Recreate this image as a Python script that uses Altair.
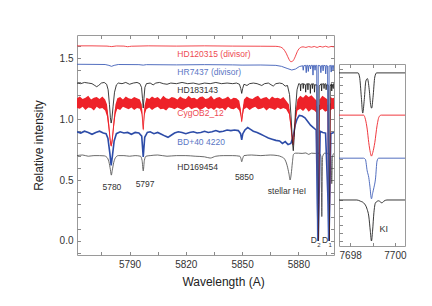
import altair as alt
import pandas as pd

FONT = "Liberation Sans, Arial, sans-serif"

# ---------------- main panel spectra (wavelength A, relative intensity) ----------------
hd120315_w = [5762, 5770, 5778, 5780.5, 5783, 5787, 5789, 5791, 5800, 5815, 5830, 5845, 5860, 5868,
              5870.5, 5872, 5873.5, 5875, 5876, 5877, 5878.3, 5879.5, 5881, 5882.5, 5884, 5885.5,
              5887, 5888.5, 5890, 5891.5, 5893, 5894.5, 5896, 5897.5, 5899]
hd120315_i = [1.600, 1.600, 1.598, 1.594, 1.599, 1.598, 1.593, 1.597, 1.600, 1.598, 1.600, 1.598, 1.597, 1.596,
              1.590, 1.575, 1.540, 1.490, 1.470, 1.475, 1.510, 1.555, 1.585, 1.592, 1.587, 1.594,
              1.589, 1.595, 1.587, 1.596, 1.590, 1.597, 1.589, 1.595, 1.592]

hr7437_w = [5762, 5770, 5777, 5779, 5780.4, 5781.8, 5784, 5795, 5797.3, 5799, 5815, 5830, 5845, 5850,
            5860, 5868, 5871, 5874, 5876.5, 5878.5, 5880.5, 5882.3, 5882.6, 5882.9, 5883.9, 5884.2,
            5884.5, 5885.0, 5885.3, 5885.6, 5886.2, 5886.5, 5886.8, 5887.5, 5887.8, 5888.1, 5888.6,
            5888.9, 5889.2, 5889.8, 5890.05, 5890.2, 5890.35, 5890.6, 5891.7, 5892.0, 5892.3, 5892.9,
            5893.2, 5893.5, 5894.3, 5894.6, 5894.9, 5895.6, 5895.85, 5896.0, 5896.15, 5896.4, 5897.2,
            5897.5, 5897.8, 5898.2, 5898.5, 5898.8, 5899]
hr7437_i = [1.449, 1.448, 1.447, 1.440, 1.432, 1.440, 1.447, 1.446, 1.442, 1.446, 1.444, 1.446, 1.444, 1.442,
            1.443, 1.440, 1.432, 1.415, 1.402, 1.410, 1.430, 1.437, 1.400, 1.437, 1.440, 1.380,
            1.440, 1.440, 1.390, 1.438, 1.440, 1.410, 1.440, 1.440, 1.360, 1.440, 1.440,
            1.400, 1.440, 1.440, 0.300, 0.000, 0.300, 1.440, 1.436, 1.380, 1.438, 1.440,
            1.395, 1.440, 1.438, 1.370, 1.440, 1.435, 0.300, 0.000, 0.300, 1.435, 1.440,
            1.385, 1.440, 1.438, 1.400, 1.440, 1.440]

hd183143_w = [5762, 5764, 5766, 5768, 5770, 5771.5, 5772.5, 5773.5, 5775, 5776.5, 5777.8, 5778.6, 5779.3,
              5779.8, 5780.2, 5780.6, 5781.2, 5782, 5783, 5784, 5786, 5788, 5790, 5792, 5794, 5795.5,
              5796.4, 5796.9, 5797.3, 5797.7, 5798.2, 5799, 5801, 5802.6, 5804, 5806, 5808, 5810, 5812,
              5815, 5818, 5821, 5824, 5827, 5830, 5833, 5836, 5839, 5842, 5845, 5847, 5848.6, 5849.3,
              5849.8, 5850.3, 5851, 5852.6, 5854, 5856, 5858, 5860.5, 5862, 5864, 5866.6, 5868, 5870,
              5871.5, 5873, 5874.2, 5875.3, 5876.2, 5876.9, 5877.3, 5877.8, 5878.5, 5879.3, 5880.2,
              5881.0, 5881.2, 5881.4, 5882.4, 5882.6, 5882.8, 5883.7, 5883.9, 5884.1, 5884.9, 5885.1,
              5885.3, 5886.2, 5886.4, 5886.6, 5887.3, 5887.5, 5887.7, 5888.4, 5888.6, 5888.8, 5889.9,
              5890.3, 5890.5, 5890.7, 5891.1, 5892.2, 5892.4, 5892.6, 5893.5, 5893.7, 5893.9, 5894.6,
              5894.8, 5895.0, 5895.9, 5896.2, 5896.4, 5896.6, 5897.0, 5897.6, 5897.8, 5898.0, 5898.6,
              5898.8, 5899]
hd183143_i = [1.295, 1.290, 1.300, 1.295, 1.290, 1.275, 1.265, 1.275, 1.295, 1.300, 1.285, 1.240, 1.120,
              1.010, 0.967, 1.000, 1.100, 1.220, 1.280, 1.295, 1.290, 1.300, 1.285, 1.295, 1.300, 1.290,
              1.260, 1.170, 1.090, 1.170, 1.260, 1.290, 1.295, 1.280, 1.295, 1.300, 1.290, 1.285, 1.295,
              1.290, 1.300, 1.290, 1.295, 1.285, 1.295, 1.290, 1.300, 1.290, 1.295, 1.290, 1.295, 1.285, 1.250,
              1.210, 1.250, 1.285, 1.275, 1.290, 1.295, 1.290, 1.275, 1.290, 1.295, 1.270, 1.290, 1.295,
              1.290, 1.270, 1.275, 1.200, 1.000, 0.800, 0.740, 0.850, 1.080, 1.240, 1.290,
              1.285, 1.230, 1.285, 1.290, 1.250, 1.290, 1.280, 1.220, 1.285, 1.290, 1.240,
              1.290, 1.285, 1.210, 1.280, 1.290, 1.250, 1.290, 1.285, 1.220, 1.280, 1.280,
              0.300, 0.000, 0.300, 1.270, 1.290, 1.230, 1.285, 1.290, 1.250, 1.285, 1.290,
              1.240, 1.280, 1.280, 0.300, 0.000, 0.300, 1.270, 1.290, 1.230, 1.285, 1.250,
              1.290, 1.285]

# CygOB2_12: noisy spectrum, read as lower / upper envelope of its noise band
cyg_w = [5762, 5763.5, 5765, 5766.5, 5768, 5769.5, 5771, 5772.5, 5774, 5775.5, 5777, 5778, 5779, 5779.7,
         5780.2, 5780.8, 5781.6, 5782.5, 5783.5, 5785, 5786.5, 5788, 5789.5, 5791, 5792.5, 5794, 5795.5,
         5796.5, 5797.3, 5798, 5799, 5800.5, 5802, 5803.5, 5805, 5806.5, 5808, 5809.5, 5811, 5812.5,
         5814, 5815.5, 5817, 5818.5, 5820, 5821.5, 5823, 5824.5, 5826, 5827.5, 5829, 5830.5, 5832,
         5833.5, 5835, 5836.5, 5838, 5839.5, 5841, 5842.5, 5844, 5845.5, 5847, 5848.5, 5849.3, 5849.8,
         5850.3, 5851, 5852.5, 5854, 5855.5, 5857, 5858.5, 5860, 5861.5, 5863, 5864.5, 5866, 5867.5,
         5869, 5870.5, 5872, 5873.5, 5875, 5876, 5876.8, 5877.2, 5877.7, 5878.5, 5879.5, 5881, 5882.5,
         5884, 5885.5, 5887, 5888.5, 5889.8, 5890.3, 5890.6, 5890.9, 5891.3, 5892.8, 5894.3, 5895.6,
         5896.1, 5896.4, 5896.7, 5897.1, 5898.2, 5899]
cyg_lo = [1.090, 1.085, 1.100, 1.075, 1.095, 1.090, 1.070, 1.100, 1.085, 1.090, 1.070, 1.020, 0.900, 0.800,
          0.770, 0.800, 0.920, 1.040, 1.085, 1.075, 1.100, 1.090, 1.080, 1.095, 1.075, 1.090, 1.085,
          1.040, 0.900, 1.030, 1.080, 1.095, 1.075, 1.090, 1.100, 1.080, 1.085, 1.070, 1.095, 1.090,
          1.080, 1.095, 1.085, 1.075, 1.090, 1.100, 1.080, 1.090, 1.095, 1.075, 1.085, 1.100, 1.080,
          1.090, 1.075, 1.095, 1.085, 1.090, 1.070, 1.100, 1.085, 1.080, 1.095, 1.070, 1.020, 0.970,
          1.020, 1.080, 1.095, 1.075, 1.090, 1.100, 1.080, 1.085, 1.095, 1.070, 1.090, 1.085, 1.075,
          1.095, 1.080, 1.090, 1.080, 1.040, 0.920, 0.800, 0.780, 0.840, 0.980, 1.070, 1.085, 1.065,
          1.090, 1.060, 1.080, 1.070, 1.050, 0.300, 0.000, 0.300, 1.070, 1.085, 1.060, 1.070,
          0.300, 0.000, 0.300, 1.070, 1.085, 1.080]
cyg_hi = [1.170, 1.185, 1.165, 1.175, 1.190, 1.160, 1.175, 1.180, 1.165, 1.185, 1.160, 1.120, 0.980, 0.850,
          0.790, 0.860, 1.000, 1.120, 1.170, 1.180, 1.160, 1.185, 1.170, 1.165, 1.180, 1.170, 1.160,
          1.120, 0.930, 1.110, 1.175, 1.165, 1.185, 1.170, 1.180, 1.160, 1.190, 1.170, 1.165, 1.180,
          1.175, 1.160, 1.185, 1.170, 1.165, 1.190, 1.170, 1.175, 1.160, 1.180, 1.185, 1.165, 1.170,
          1.190, 1.160, 1.175, 1.180, 1.165, 1.170, 1.185, 1.160, 1.175, 1.170, 1.150, 1.080, 0.990,
          1.080, 1.160, 1.185, 1.170, 1.165, 1.180, 1.190, 1.165, 1.175, 1.180, 1.160, 1.185, 1.170,
          1.175, 1.165, 1.180, 1.150, 1.120, 0.980, 0.840, 0.800, 0.900, 1.050, 1.160, 1.190, 1.175,
          1.200, 1.180, 1.195, 1.170, 1.150, 0.350, 0.020, 0.350, 1.160, 1.190, 1.175, 1.160,
          0.350, 0.020, 0.350, 1.180, 1.170, 1.175]

bd40_w = [5762, 5764, 5766, 5768, 5770, 5772, 5774, 5776, 5777.5, 5778.5, 5779.5, 5780.2, 5780.9, 5781.8,
          5783, 5785, 5787, 5789, 5791, 5793, 5795, 5796.5, 5797.3, 5798.1, 5799.5, 5801, 5803, 5805,
          5807, 5809, 5810.5, 5812, 5814, 5816, 5818, 5820, 5822, 5824, 5826, 5828, 5830, 5832, 5834,
          5836, 5838, 5840, 5842, 5844, 5846, 5848, 5849.2, 5849.8, 5850.4, 5851.5, 5853, 5854.5, 5856,
          5858, 5860, 5862, 5864, 5866, 5868, 5870, 5871.5, 5873, 5874.5, 5876, 5877.3, 5878.3, 5879.3,
          5880.5, 5882, 5883.5, 5885, 5886.5, 5888, 5889.5, 5890.2, 5890.6, 5891.0, 5891.6, 5893,
          5894.5, 5895.9, 5896.3, 5896.7, 5897.3, 5899]
bd40_i = [0.895, 0.885, 0.900, 0.890, 0.875, 0.890, 0.900, 0.885, 0.880, 0.840, 0.720, 0.620, 0.700, 0.820,
          0.880, 0.895, 0.885, 0.890, 0.875, 0.890, 0.885, 0.860, 0.690, 0.850, 0.890, 0.895, 0.880, 0.890,
          0.875, 0.860, 0.850, 0.865, 0.885, 0.895, 0.890, 0.880, 0.890, 0.895, 0.885, 0.890, 0.900, 0.890, 0.895,
          0.905, 0.895, 0.900, 0.910, 0.905, 0.910, 0.905, 0.880, 0.830, 0.880, 0.910, 0.930, 0.915, 0.900,
          0.890, 0.875, 0.860, 0.845, 0.835, 0.825, 0.820, 0.800, 0.815, 0.790, 0.800, 0.860, 0.950, 1.000,
          1.030, 1.025, 1.010, 0.980, 0.950, 0.930, 0.910, 0.300, 0.000, 0.300, 0.900, 0.890,
          0.885, 0.300, 0.000, 0.300, 0.880, 0.890]

hd169454_w = [5762, 5765, 5768, 5771, 5774, 5776.5, 5778, 5779, 5779.8, 5780.3, 5780.8, 5781.6, 5782.6,
              5784, 5787, 5790, 5793, 5795.8, 5796.7, 5797.3, 5797.9, 5798.8, 5801, 5805, 5810, 5815,
              5820, 5825, 5830, 5833, 5836, 5840, 5845, 5848.8, 5849.4, 5849.8, 5850.3, 5851, 5855,
              5860, 5865, 5869, 5871, 5872.5, 5874, 5875, 5875.6, 5876.2, 5876.8, 5877.4, 5878.5,
              5880, 5882, 5884, 5885.5, 5887, 5889, 5891, 5892.1, 5892.5, 5892.9, 5894, 5896, 5897.4,
              5897.8, 5898.2, 5899]
hd169454_i = [0.700, 0.705, 0.695, 0.700, 0.700, 0.698, 0.685, 0.650, 0.585, 0.540, 0.580, 0.645, 0.685,
              0.700, 0.700, 0.695, 0.700, 0.695, 0.660, 0.575, 0.660, 0.695, 0.700, 0.705, 0.695, 0.700,
              0.700, 0.695, 0.690, 0.680, 0.695, 0.700, 0.700, 0.695, 0.675, 0.650, 0.675, 0.700, 0.705,
              0.700, 0.705, 0.700, 0.690, 0.675, 0.620, 0.550, 0.500, 0.550, 0.640, 0.710, 0.720,
              0.720, 0.718, 0.722, 0.710, 0.720, 0.718, 0.720, 0.690, 0.200, 0.690, 0.720, 0.718, 0.690,
              0.470, 0.690, 0.720]

# ---------------- labels in main panel ----------------
name_text = ["HD120315 (divisor)", "HR7437 (divisor)", "HD183143", "CygOB2_12", "BD+40 4220", "HD169454"]
name_w = [5815.5, 5815.5, 5815.5, 5815.5, 5815.5, 5815.5]
name_v = [1.533, 1.383, 1.238, 1.052, 0.814, 0.609]
name_color = ["#ee4a52", "#5a76c4", "#333333", "#ee4a52", "#5a76c4", "#333333"]

feat_text = ["5780", "5797", "5850", "stellar HeI"]
feat_w = [5780.6, 5798.3, 5851.2, 5873.9]
feat_v = [0.445, 0.467, 0.527, 0.412]

d_text = ["D", "D"]
d_w = [5888.2, 5894.2]
d_v = [0.008, 0.008]
dsub_text = ["2", "1"]
dsub_w = [5890.9, 5896.9]
dsub_v = [-0.03, -0.03]

# ---------------- inset: K I 7699 line ----------------
k_top_w = [7697.5, 7698.35, 7698.42, 7698.5, 7698.56, 7698.63, 7698.7, 7698.77, 7698.85, 7698.92,
           7698.96, 7699.02, 7699.1, 7699.18, 7700.45]
k_top_i = [1.0, 1.0, 0.9, 0.4, 0.02, 0.35, 0.8, 0.86, 0.6, 0.2, 0.14, 0.4, 0.9, 1.0, 1.0]
k_red_w = [7697.5, 7698.6, 7698.68, 7698.76, 7698.83, 7698.90, 7698.95, 7699.01, 7699.1, 7699.2,
           7699.3, 7699.39, 7700.45]
k_red_i = [1.0, 1.0, 0.9, 0.66, 0.33, 0.09, 0.0, 0.09, 0.33, 0.74, 0.97, 1.0, 1.0]
k_blue_w = [7697.5, 7698.6, 7698.68, 7698.76, 7698.83, 7698.88, 7698.95, 7699.01, 7699.06, 7699.13,
            7699.2, 7699.27, 7700.45]
k_blue_i = [1.0, 1.0, 0.97, 0.69, 0.53, 0.32, 0.01, 0.16, 0.28, 0.49, 0.93, 1.0, 1.0]
k_bot_w = [7697.5, 7698.3, 7698.46, 7698.6, 7698.76, 7698.83, 7698.90, 7698.95, 7699.0, 7699.06,
           7699.13, 7699.27, 7699.42, 7699.5, 7699.64, 7700.45]
k_bot_i = [1.0, 1.0, 0.97, 0.93, 0.77, 0.61, 0.24, 0.0, 0.24, 0.69, 0.93, 0.98, 0.93, 0.97, 1.0, 1.0]
k_offsets = [3.10, 2.07, 1.02, 0.0]

# ---------------- axes ----------------
x_ticks = [5775, 5790, 5805, 5820, 5835, 5850, 5865, 5880, 5895]
y_ticks = [round(-0.1 + 0.1 * k, 1) for k in range(18)]
ix_ticks = [7698, 7699, 7700]
iy_ticks = [round(0.2 * k, 1) for k in range(22)]

XS = alt.Scale(domain=[5762, 5899], nice=False, zero=False)
YS = alt.Scale(domain=[-0.115, 1.689], nice=False, zero=False)
IXS = alt.Scale(domain=[7697.5, 7700.45], nice=False, zero=False)
IYS = alt.Scale(domain=[-0.122, 4.317], nice=False, zero=False)

TICK = dict(tickSize=3.5, offset=-3.5, domain=False, grid=False, tickColor="#8a8a8a")

x_axis = alt.Axis(values=x_ticks, format="d", labelFlush=False,
                  labelExpr="datum.value % 30 == 0 ? datum.label : ''",
                  labelPadding=4, title="Wavelength (A)", titleX=146, titleY=30,
                  titleBaseline="middle", titleAlign="center", **TICK)
y_axis = alt.Axis(values=y_ticks, format=".1f",
                  labelExpr="abs(datum.value * 2 - round(datum.value * 2)) < 0.001 ? datum.label : ''",
                  labelPadding=4, title="Relative intensity", titleX=-42, titleY=110,
                  titleBaseline="middle", titleAlign="center", titleAngle=270, **TICK)
x_axis_top = alt.Axis(values=x_ticks, orient="top", labels=False, title=None, **TICK)
y_axis_right = alt.Axis(values=y_ticks, orient="right", labels=False, title=None, **TICK)


def spec(w, i):
    return pd.DataFrame({"w": w, "v": i})


def line(df, color, sw=0.85, interp="monotone"):
    return alt.Chart(df).mark_line(color=color, strokeWidth=sw, interpolate=interp, clip=True).encode(
        x=alt.X("w:Q", scale=XS, axis=x_axis),
        y=alt.Y("v:Q", scale=YS, axis=y_axis),
        order="w:Q",
    )


cyg_df = pd.DataFrame({"w": cyg_w, "lo": cyg_lo, "hi": cyg_hi})
cyg_df["v"] = (cyg_df["lo"] + cyg_df["hi"]) / 2

cyg_area = alt.Chart(cyg_df).mark_area(color="#ee2229", opacity=1, clip=True).encode(
    x=alt.X("w:Q", scale=XS, axis=x_axis),
    y=alt.Y("lo:Q", scale=YS, axis=y_axis),
    y2="hi:Q",
)

names_df = pd.DataFrame({"t": name_text, "w": name_w, "v": name_v, "c": name_color})
names = alt.Chart(names_df).mark_text(align="left", baseline="middle", font=FONT, fontSize=8.5).encode(
    x=alt.X("w:Q", scale=XS, axis=x_axis), y=alt.Y("v:Q", scale=YS, axis=y_axis),
    text="t:N", color=alt.Color("c:N", scale=None))

feats = alt.Chart(pd.DataFrame({"t": feat_text, "w": feat_w, "v": feat_v})).mark_text(
    align="center", baseline="middle", font=FONT, fontSize=8.5, color="#333333").encode(
    x=alt.X("w:Q", scale=XS, axis=x_axis), y=alt.Y("v:Q", scale=YS, axis=y_axis), text="t:N")

dlab = alt.Chart(pd.DataFrame({"t": d_text, "w": d_w, "v": d_v})).mark_text(
    align="center", baseline="middle", font=FONT, fontSize=8.5, color="#333333").encode(
    x=alt.X("w:Q", scale=XS, axis=x_axis), y=alt.Y("v:Q", scale=YS, axis=y_axis), text="t:N")
dsub = alt.Chart(pd.DataFrame({"t": dsub_text, "w": dsub_w, "v": dsub_v})).mark_text(
    align="center", baseline="middle", font=FONT, fontSize=6, color="#333333").encode(
    x=alt.X("w:Q", scale=XS, axis=x_axis), y=alt.Y("v:Q", scale=YS, axis=y_axis), text="t:N")

spectra = alt.layer(
    line(spec(hd169454_w, hd169454_i), "#444444", 0.8),
    line(spec(bd40_w, bd40_i), "#2d4ca8", 1.6, "linear"),
    cyg_area,
    line(cyg_df[["w", "v"]], "#ee2229", 0.8, "linear"),
    line(spec(hd183143_w, hd183143_i), "#1e1e1e", 0.85, "linear"),
    line(spec(hr7437_w, hr7437_i), "#3f5fb8", 0.9, "linear"),
    line(spec(hd120315_w, hd120315_i), "#f0343b", 0.9),
    names, feats, dlab, dsub,
)

mirror = alt.Chart(pd.DataFrame({"w": [XS.domain[0]], "v": [YS.domain[0]]})).mark_point(opacity=0).encode(
    x=alt.X("w:Q", scale=XS, axis=x_axis_top),
    y=alt.Y("v:Q", scale=YS, axis=y_axis_right),
)

main = alt.layer(spectra, mirror).resolve_scale(x="independent", y="independent").properties(
    width=257, height=220)

# ---------------- inset ----------------
ix_axis = alt.Axis(values=ix_ticks, format="d", labelFlush=False,
                   labelExpr="datum.value % 2 == 0 ? datum.label : ''", labelPadding=4, title=None, **TICK)
iy_axis = alt.Axis(values=iy_ticks, labels=False, title=None, **TICK)
ix_axis_top = alt.Axis(values=ix_ticks, orient="top", labels=False, title=None, **TICK)


def kline(w, i, off, color):
    df = pd.DataFrame({"w": w, "i": i})
    df["v"] = df["i"] + off
    return alt.Chart(df).mark_line(color=color, strokeWidth=0.9, interpolate="monotone", clip=True).encode(
        x=alt.X("w:Q", scale=IXS, axis=ix_axis),
        y=alt.Y("v:Q", scale=IYS, axis=iy_axis),
        order="w:Q",
    )


klab = alt.Chart(pd.DataFrame({"t": ["KI"], "w": [7699.5], "v": [0.29]})).mark_text(
    align="center", baseline="middle", font=FONT, fontSize=9, color="#333333").encode(
    x=alt.X("w:Q", scale=IXS, axis=ix_axis), y=alt.Y("v:Q", scale=IYS, axis=iy_axis), text="t:N")

inset_lines = alt.layer(
    kline(k_top_w, k_top_i, k_offsets[0], "#222222"),
    kline(k_red_w, k_red_i, k_offsets[1], "#ee2229"),
    kline(k_blue_w, k_blue_i, k_offsets[2], "#3f5fb8"),
    kline(k_bot_w, k_bot_i, k_offsets[3], "#222222"),
    klab,
)
inset_mirror = alt.Chart(pd.DataFrame({"w": [IXS.domain[0]], "v": [IYS.domain[0]]})).mark_point(opacity=0).encode(
    x=alt.X("w:Q", scale=IXS, axis=ix_axis_top),
    y=alt.Y("v:Q", scale=IYS, axis=None),
)
inset = alt.layer(inset_lines, inset_mirror).resolve_scale(x="independent", y="independent").properties(
    width=66, height=182)

spacer = alt.Chart(pd.DataFrame({"a": [0]})).mark_point(opacity=0).encode(
    x=alt.value(0), y=alt.value(0)).properties(width=66, height=27, view=alt.ViewBackground(stroke="transparent"))

chart = alt.hconcat(main, alt.vconcat(spacer, inset, spacing=0), spacing=0).properties(
    padding={"left": 24, "top": 23, "right": 5, "bottom": 5}
).configure_view(stroke="#9a9a9a", strokeWidth=1).configure_axis(
    labelFont=FONT, labelFontSize=10, labelColor="#333333",
    titleFont=FONT, titleFontSize=12, titleFontWeight="normal", titleColor="#222222",
)

chart.save("out.html", embed_options={"renderer": "svg", "actions": False})
